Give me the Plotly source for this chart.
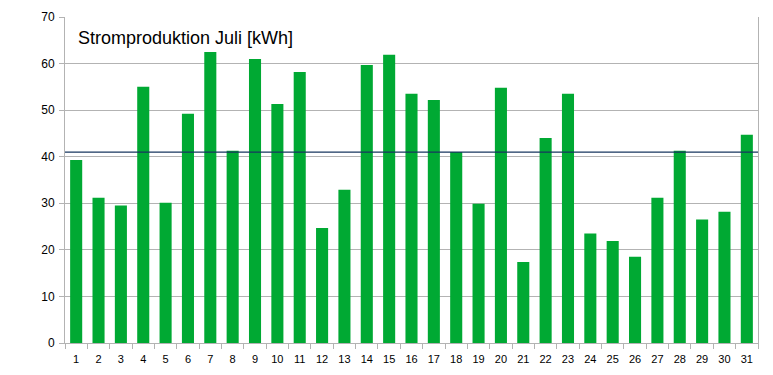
import plotly.graph_objects as go

days = [str(d) for d in range(1, 32)]
kwh = [39.3, 31.2, 29.5, 55.0, 30.1, 49.2, 62.5, 41.3, 61.0, 51.3,
       58.2, 24.7, 32.9, 59.7, 61.9, 53.5, 52.2, 41.0, 29.9, 54.8,
       17.4, 44.0, 53.5, 23.5, 21.9, 18.5, 31.2, 41.3, 26.5, 28.2, 44.7]
title_text = "Stromproduktion Juli [kWh]"
y_ticks = [0, 10, 20, 30, 40, 50, 60, 70]

mean_val = sum(kwh) / len(kwh)

fig = go.Figure()
fig.add_trace(go.Bar(x=days, y=kwh, marker=dict(color="#00a933", line=dict(width=0)),
                     width=0.54, showlegend=False))

fig.add_shape(type="line", xref="paper", x0=0, x1=1, yref="y", y0=mean_val, y1=mean_val,
              line=dict(color="#17365f", width=1.3), layer="above")

fig.add_annotation(text=title_text, xref="paper", yref="paper", x=0.016, y=0.937,
                   xanchor="left", yanchor="middle", showarrow=False,
                   font=dict(family="Liberation Sans", size=18, color="#000000"))

# page body has an 8px default margin, so the figure is shrunk by 8px
fig.update_layout(
    width=765, height=367,
    margin=dict(l=57, r=15, t=9, b=32, autoexpand=False),
    paper_bgcolor="white", plot_bgcolor="white",
    font=dict(family="Liberation Sans", size=11, color="#000000"),
)
fig.update_xaxes(
    type="category", tickson="boundaries", ticks="outside", ticklen=5, tickcolor="#b3b3b3",
    showline=True, linecolor="#b3b3b3", linewidth=1, mirror=False, showgrid=False,
    ticklabelstandoff=6, tickfont=dict(size=11), automargin=False,
)
fig.update_yaxes(
    range=[0, 70], tickvals=y_ticks, ticks="outside", ticklen=5, tickcolor="#b3b3b3",
    showline=True, linecolor="#b3b3b3", linewidth=1, mirror=True,
    showgrid=True, gridcolor="#b3b3b3", gridwidth=1, zeroline=False,
    tickfont=dict(size=12), ticklabelstandoff=2, automargin=False,
)

fig.write_html("out.html")
